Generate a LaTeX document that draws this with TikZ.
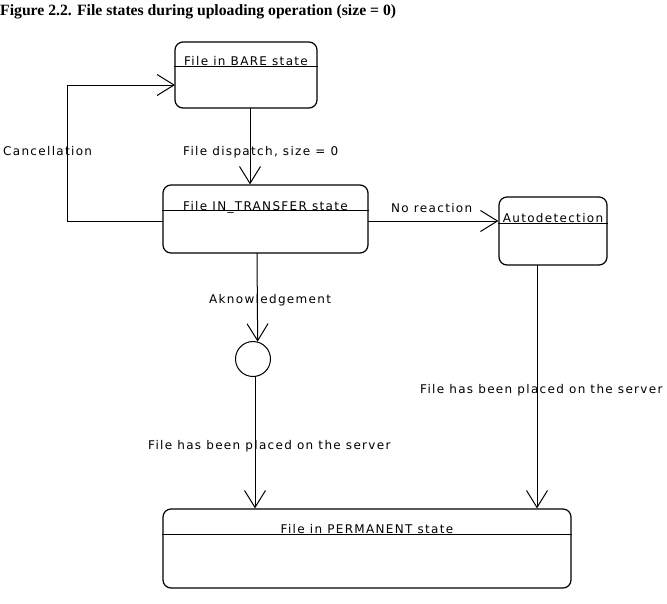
\documentclass[tikz,border=0pt]{standalone}
\usepackage{fontspec}
\setmainfont{Liberation Serif}
\newfontfamily\uifont[LetterSpace=11]{DejaVu Sans}
\usetikzlibrary{arrows.meta,calc}
\tikzset{
  state/.style={draw, line width=1.2pt, rounded corners=8pt, inner sep=0pt},
  divider/.style={line width=1pt},
  title/.style={font=\uifont\fontsize{12}{14}\selectfont, anchor=base, inner sep=0pt},
  lbl/.style={font=\uifont\fontsize{12}{14}\selectfont, anchor=west, inner sep=0pt},
  arr/.style={line width=1pt, -{Straight Barb[length=17pt,width=21pt,line width=1pt]}},
  line/.style={line width=1pt}
}
\begin{document}
\begin{tikzpicture}[x=1pt,y=-1pt]
\useasboundingbox (0,0) rectangle (667,603);
\node[font=\bfseries\fontsize{15.7}{18}\selectfont, anchor=west, inner sep=0pt] (fig) at (0,12) {Figure 2.2. File states during uploading operation (size = 0)};
% states
\node[state, minimum width=142pt, minimum height=66pt] (bare) at (246,75) {};
\node[state, minimum width=205pt, minimum height=68pt] (trans) at (265.5,219) {};
\node[state, minimum width=108pt, minimum height=68pt] (auto) at (553,231) {};
\node[draw, line width=1pt, circle, minimum size=35pt, inner sep=0pt] (circ) at (253,359) {};
\node[state, minimum width=408pt, minimum height=79pt] (perm) at (367,548.5) {};
% dividers
\draw[divider] ($(bare.north west)+(0,25)$) -- ($(bare.north east)+(0,25)$);
\draw[divider] ($(trans.north west)+(0,26)$) -- ($(trans.north east)+(0,26)$);
\draw[divider] ($(auto.north west)+(0,27)$) -- ($(auto.north east)+(0,27)$);
\draw[divider] ($(perm.north west)+(0,26)$) -- ($(perm.north east)+(0,26)$);
% titles
\node[title] (tbare) at (246,65) {File in BARE state};
\node[title] (ttrans) at (265.5,210) {File IN\_TRANSFER state};
\node[title] (tauto) at (553,222) {Autodetection};
\node[title] (tperm) at (367,533) {File in PERMANENT state};
% connection points
\coordinate (p1) at (250,108);
\coordinate (p2) at (163,221);
\coordinate (p3) at (175,85);
\coordinate (p4) at (368,221);
\coordinate (p5) at (257,253);
\coordinate (p6) at (255,376);
\coordinate (p7) at (537,265);
% connectors
\draw[arr] (p1) -- (p1 |- trans.north);
\draw[arr] (p2) -- (67,221) -- (67,85) -- (p3);
\draw[arr] (p4) -- (p4 -| auto.west);
\draw[arr] (p5) -- (circ.75);
\draw[arr] (p6) -- (p6 |- perm.north);
\draw[arr] (p7) -- (p7 |- perm.north);
% labels
\node[lbl] (l1) at (183,152) {File dispatch, size = 0};
\node[lbl] (l2) at (3,151) {Cancellation};
\node[lbl] (l3) at (391,208) {No reaction};
\node[lbl] (l4) at (209,300) {Aknowledgement};
\node[lbl] (l5) at (148,446) {File has been placed on the server};
\node[lbl] (l6) at (420,390) {File has been placed on the server};
\end{tikzpicture}
\end{document}
